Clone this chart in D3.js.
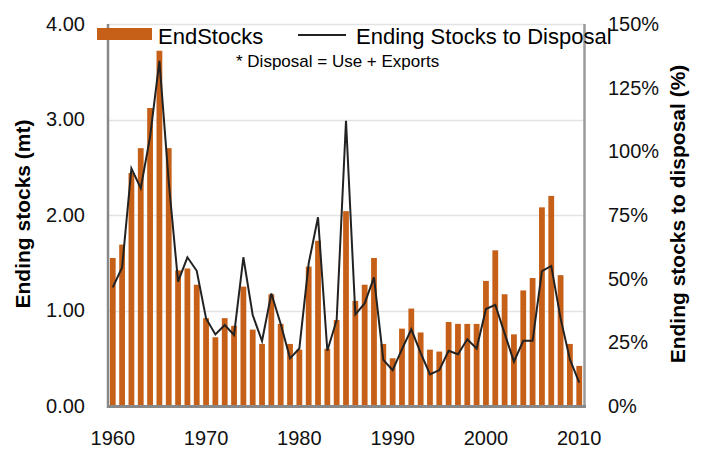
<!DOCTYPE html>
<html lang="en">

<head>
    <meta charset="UTF-8">
    <title>Ending stocks</title>
    <script src="https://cdn.jsdelivr.net/npm/d3@7"></script>
    <style>
        body { margin: 0; background: #fff; }
        svg { font-family: "Liberation Sans", Arial, Helvetica, sans-serif; }
    </style>
</head>

<body>
    <svg id="chart"></svg>

    <script>
        const years = [1960, 1961, 1962, 1963, 1964, 1965, 1966, 1967, 1968, 1969,
            1970, 1971, 1972, 1973, 1974, 1975, 1976, 1977, 1978, 1979,
            1980, 1981, 1982, 1983, 1984, 1985, 1986, 1987, 1988, 1989,
            1990, 1991, 1992, 1993, 1994, 1995, 1996, 1997, 1998, 1999,
            2000, 2001, 2002, 2003, 2004, 2005, 2006, 2007, 2008, 2009, 2010]

        // ending stocks, million tonnes
        const endStocks = [1.55, 1.69, 2.44, 2.70, 3.12, 3.72, 2.70, 1.42, 1.44, 1.27,
            0.92, 0.72, 0.92, 0.84, 1.25, 0.80, 0.65, 1.17, 0.86, 0.65,
            0.59, 1.46, 1.73, 0.60, 0.90, 2.04, 1.10, 1.27, 1.55, 0.65,
            0.50, 0.81, 1.02, 0.77, 0.59, 0.57, 0.88, 0.86, 0.86, 0.86,
            1.31, 1.63, 1.17, 0.75, 1.21, 1.34, 2.08, 2.20, 1.37, 0.65, 0.42]

        // ending stocks to disposal (fraction)
        const stocksToDisposal = [0.466, 0.544, 0.933, 0.855, 1.057, 1.355, 0.88, 0.488, 0.584, 0.531,
            0.344, 0.281, 0.318, 0.279, 0.584, 0.357, 0.255, 0.442, 0.322, 0.187,
            0.226, 0.560, 0.741, 0.217, 0.338, 1.12, 0.36, 0.403, 0.505, 0.181,
            0.141, 0.223, 0.301, 0.209, 0.124, 0.141, 0.217, 0.203, 0.262, 0.226,
            0.381, 0.397, 0.285, 0.174, 0.256, 0.256, 0.530, 0.550, 0.344, 0.183, 0.092]

        const xTicks = [1960, 1970, 1980, 1990, 2000, 2010]
        const leftTicks = [0, 1, 2, 3, 4]
        const rightTicks = [0, 0.25, 0.5, 0.75, 1, 1.25, 1.5]

        const width = 703
        const height = 450
        const plot = { left: 108, right: 584, top: 24, bottom: 406 }
        const barColor = '#c65f17'

        const svg = d3.select('#chart')
            .attr('width', width)
            .attr('height', height)

        const x = d3.scaleBand()
            .domain(years)
            .range([plot.left, plot.right])
            .paddingInner(0.38)
            .paddingOuter(0.2)

        const yLeft = d3.scaleLinear().domain([0, 4]).range([plot.bottom, plot.top])
        const yRight = d3.scaleLinear().domain([0, 1.5]).range([plot.bottom, plot.top])

        // gridlines
        svg.append('g')
            .selectAll('line')
            .data(leftTicks.slice(1))
            .join('line')
            .attr('x1', plot.left)
            .attr('x2', plot.right)
            .attr('y1', d => Math.round(yLeft(d)) + 0.5)
            .attr('y2', d => Math.round(yLeft(d)) + 0.5)
            .attr('stroke', '#e3e3e3')
            .attr('stroke-width', 1.5)

        // bars
        const data = years.map((yr, i) => ({ year: yr, stocks: endStocks[i], ratio: stocksToDisposal[i] }))

        svg.append('g')
            .selectAll('rect')
            .data(data)
            .join('rect')
            .attr('x', d => x(d.year))
            .attr('width', x.bandwidth())
            .attr('y', d => yLeft(d.stocks))
            .attr('height', d => plot.bottom - yLeft(d.stocks))
            .attr('fill', barColor)

        // ratio line
        const line = d3.line()
            .x(d => x(d.year) + x.bandwidth() / 2)
            .y(d => yRight(d.ratio))

        svg.append('path')
            .datum(data)
            .attr('d', line)
            .attr('fill', 'none')
            .attr('stroke', '#222')
            .attr('stroke-width', 2)

        // frame
        svg.append('line')
            .attr('x1', plot.right + 0.5).attr('x2', plot.right + 0.5)
            .attr('y1', plot.top).attr('y2', plot.bottom + 2)
            .attr('stroke', '#9a9a9a').attr('stroke-width', 2.5)
        svg.append('line')
            .attr('x1', plot.left).attr('x2', plot.left)
            .attr('y1', plot.top).attr('y2', plot.bottom + 2)
            .attr('stroke', '#888').attr('stroke-width', 2.5)
        svg.append('line')
            .attr('x1', plot.left - 1).attr('x2', plot.right + 2)
            .attr('y1', plot.bottom + 0.5).attr('y2', plot.bottom + 0.5)
            .attr('stroke', '#888').attr('stroke-width', 3)

        // axes
        const styleAxis = g => {
            g.select('.domain').remove()
            g.selectAll('text')
                .attr('font-size', 20)
                .attr('fill', '#111')
                .attr('font-family', '"Liberation Sans", Arial, Helvetica, sans-serif')
        }

        svg.append('g')
            .attr('transform', `translate(${plot.left},0)`)
            .call(d3.axisLeft(yLeft).tickValues(leftTicks).tickFormat(d3.format('.2f')).tickSize(0).tickPadding(23))
            .call(styleAxis)

        svg.append('g')
            .attr('transform', `translate(${plot.right},0)`)
            .call(d3.axisRight(yRight).tickValues(rightTicks).tickFormat(d3.format('.0%')).tickSize(0).tickPadding(24))
            .call(styleAxis)

        svg.append('g')
            .attr('transform', `translate(0,${plot.bottom})`)
            .call(d3.axisBottom(x).tickValues(xTicks).tickSize(0).tickPadding(25))
            .call(styleAxis)

        // axis titles
        svg.append('text')
            .attr('transform', 'translate(30,214) rotate(-90)')
            .attr('text-anchor', 'middle')
            .attr('font-size', 21)
            .attr('font-weight', 'bold')
            .text('Ending stocks (mt)')

        svg.append('text')
            .attr('transform', 'translate(685,214) rotate(-90)')
            .attr('text-anchor', 'middle')
            .attr('font-size', 21)
            .attr('font-weight', 'bold')
            .text('Ending stocks to disposal (%)')

        // legend
        svg.append('rect')
            .attr('x', 97).attr('y', 28)
            .attr('width', 55).attr('height', 12)
            .attr('fill', barColor)
        svg.append('text')
            .attr('x', 158).attr('y', 44)
            .attr('font-size', 22)
            .text('EndStocks')

        svg.append('line')
            .attr('x1', 298).attr('x2', 346)
            .attr('y1', 35).attr('y2', 35)
            .attr('stroke', '#222').attr('stroke-width', 2)
        svg.append('text')
            .attr('x', 356).attr('y', 44)
            .attr('font-size', 22)
            .text('Ending Stocks to Disposal')

        svg.append('text')
            .attr('x', 236).attr('y', 67)
            .attr('font-size', 17)
            .text('* Disposal = Use + Exports')
    </script>
</body>

</html>
